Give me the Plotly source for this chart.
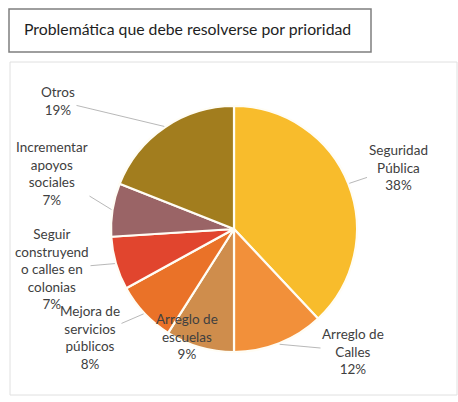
import math
import plotly.graph_objects as go

labels = ["Seguridad Pública", "Arreglo de Calles", "Arreglo de escuelas",
          "Mejora de servicios públicos", "Seguir construyendo calles en colonias",
          "Incrementar apoyos sociales", "Otros"]
label_text = ["Seguridad<br>Pública", "Arreglo de<br>Calles", "Arreglo de<br>escuelas",
              "Mejora de<br>servicios<br>públicos", "Seguir<br>construyend<br>o calles en<br>colonias",
              "Incrementar<br>apoyos<br>sociales", "Otros"]
values = [38, 12, 9, 8, 7, 7, 19]
colors = ["#F8BC2C", "#F2903A", "#CF8D4C", "#EA7228", "#E1452E", "#9A6466", "#A27D1E"]

W, H = 458, 402
CX, CY, R = 234, 229, 123
# label text centres (pixels) and whether a leader line is drawn
label_pos = [(398, 167, True), (353, 351, True), (187, 364, False), (90, 337, True),
             (52, 269, True), (52, 173, True), (58, 101, True)]

fig = go.Figure(go.Pie(
    labels=labels, values=values, sort=False, direction="clockwise", rotation=0,
    marker=dict(colors=colors, line=dict(color="#FFFDF5", width=2.2)),
    textinfo="none", hoverinfo="label+percent", showlegend=False,
    domain=dict(x=[(CX - R) / W, (CX + R) / W], y=[1 - (CY + R) / H, 1 - (CY - R) / H]),
))

total = sum(values)
cum = 0
annotations = []
FONT = dict(family="Lato", size=13.5, color="#404040")
for v, t, (tx, ty, lead) in zip(values, label_text, label_pos):
    mid = (cum + v / 2) / total * 2 * math.pi
    cum += v
    hx = CX + (R + 1) * math.sin(mid)
    hy = CY - (R + 1) * math.cos(mid)
    txt = f"{t}<br>{round(v / total * 100)}%"
    if lead:
        annotations.append(dict(x=hx / W, y=1 - hy / H, xref="paper", yref="paper",
                                ax=tx - hx, ay=ty - hy, text=txt, showarrow=True,
                                arrowhead=0, arrowwidth=0.8, arrowcolor="#A6A6A6",
                                font=FONT, align="center"))
    else:
        annotations.append(dict(x=tx / W, y=1 - ty / H, xref="paper", yref="paper",
                                text=txt, showarrow=False, font=FONT, align="center"))

annotations.append(dict(x=22 / W, y=1 - 29 / H, xref="paper", yref="paper", xanchor="left",
                        yanchor="middle", text="Problemática que debe resolverse por prioridad",
                        showarrow=False, font=dict(family="Lato", size=15.8, color="#1E1E1E")))

shapes = [
    dict(type="rect", xref="paper", yref="paper", x0=9 / W, x1=371 / W, y0=1 - 52 / H, y1=1 - 9 / H,
         line=dict(color="#7F7F7F", width=1.5)),
    dict(type="rect", xref="paper", yref="paper", x0=10 / W, x1=457 / W, y0=1 - 395 / H, y1=1 - 62 / H,
         line=dict(color="#E0E0E0", width=1)),
]

fig.update_layout(width=W, height=H, margin=dict(l=0, r=0, t=0, b=0),
                  paper_bgcolor="white", plot_bgcolor="white",
                  annotations=annotations, shapes=shapes)
fig.write_html("out.html", config={"displayModeBar": False},
               post_script="document.body.style.margin='0';")
